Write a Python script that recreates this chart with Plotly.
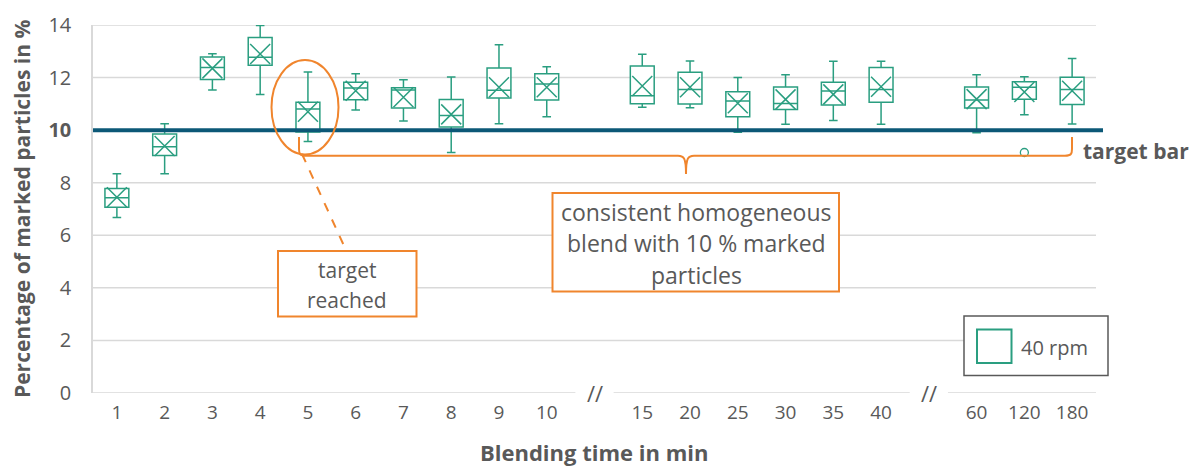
import plotly.graph_objects as go

# ---------------- data ----------------
slot_labels = ["1", "2", "3", "4", "5", "6", "7", "8", "9", "10", "//",
               "15", "20", "25", "30", "35", "40", "//", "60", "120", "180"]
times = ["1", "2", "3", "4", "5", "6", "7", "8", "9", "10",
         "15", "20", "25", "30", "35", "40", "60", "120", "180"]
upper = [8.34, 10.24, 12.91, 13.98, 12.21, 12.15, 11.92, 12.02, 13.25, 12.41,
         12.89, 12.63, 12.00, 12.11, 12.62, 12.62, 12.11, 12.03, 12.73]
q3 = [7.78, 9.85, 12.78, 13.52, 11.06, 11.82, 11.61, 11.17, 12.36, 12.15,
      12.44, 12.20, 11.46, 11.64, 11.82, 12.38, 11.64, 11.84, 12.01]
median = [7.43, 9.37, 12.38, 12.77, 10.80, 11.60, 11.53, 10.56, 11.52, 11.76,
          11.31, 11.55, 11.11, 11.01, 11.49, 11.55, 11.15, 11.63, 11.55]
q1 = [7.07, 9.04, 11.93, 12.47, 9.93, 11.16, 10.84, 10.12, 11.22, 11.15,
      11.00, 10.99, 10.51, 10.79, 10.96, 11.06, 10.84, 11.18, 10.98]
lower = [6.68, 8.34, 11.53, 11.36, 9.57, 10.77, 10.35, 9.15, 10.24, 10.51,
         10.87, 10.85, 9.92, 10.22, 10.37, 10.22, 9.90, 10.59, 10.23]
mean = [7.45, 9.40, 12.35, 12.90, 10.70, 11.50, 11.25, 10.60, 11.63, 11.63,
        11.68, 11.63, 11.02, 11.17, 11.36, 11.65, 11.18, 11.45, 11.50]
outlier_times = ["120"]
outlier_vals = [9.15]
y_ticks = [0, 2, 4, 6, 8, 10, 12, 14]
target = 10

# ---------------- style ----------------
TEAL = "#2A9E80"
NAVY = "#0C5877"
ORANGE = "#F0852D"
GRAY = "#595959"
GRID = "#D9D9D9"
FONT = "Open Sans"

W, H = 1197, 468
ML, MR, MT, MB = 93, 101, 25, 75
PW = W - ML - MR
PH = H - MT - MB
NS = len(slot_labels)


def dx(px):
    return -0.5 + (px - ML) / PW * NS


def dy(py):
    return 14 * (H - MB - py) / PH


def paper_x(px):
    return (px - ML) / PW


def paper_y(py):
    return (H - MB - py) / PH


pos = [slot_labels.index(t) for t in times]
gap_pos = [i for i, s in enumerate(slot_labels) if s == "//"]
out_pos = [slot_labels.index(t) for t in outlier_times]

fig = go.Figure()

fig.add_trace(go.Box(
    x=pos, q1=q1, median=median, q3=q3, lowerfence=lower, upperfence=upper,
    width=0.5, whiskerwidth=0.36, fillcolor="white",
    line=dict(color=TEAL, width=1.5), boxpoints=False, name="40 rpm",
    showlegend=False,
))
fig.add_trace(go.Scatter(
    x=pos, y=mean, mode="markers",
    marker=dict(symbol="x-thin", size=20, line=dict(color=TEAL, width=1.5)),
    showlegend=False, hoverinfo="skip",
))
fig.add_trace(go.Scatter(
    x=out_pos, y=outlier_vals, mode="markers",
    marker=dict(symbol="circle-open", size=8, color=TEAL, line=dict(color=TEAL, width=1.3)),
    showlegend=False,
))

shapes = []
# gridlines
for v in y_ticks[1:]:
    shapes.append(dict(type="line", xref="paper", yref="y", x0=0, x1=1, y0=v, y1=v,
                       line=dict(color=GRID, width=1.5), layer="below"))
# bottom axis line with gaps at the breaks
segs = []
start = -0.5
for g in gap_pos:
    segs.append((start, g - 0.4))
    start = g + 0.4
segs.append((start, NS - 0.5))
for a, b in segs:
    shapes.append(dict(type="line", xref="x", yref="y", x0=a, x1=b, y0=0, y1=0,
                       line=dict(color=GRID, width=1.5), layer="below"))
# target bar
shapes.append(dict(type="line", xref="paper", yref="y", x0=0, x1=paper_x(1103),
                   y0=target, y1=target, line=dict(color=NAVY, width=4)))
# ellipse around 5 min
shapes.append(dict(type="circle", xref="x", yref="y",
                   x0=dx(271.5), x1=dx(338.5), y0=dy(154.5), y1=dy(60),
                   line=dict(color=ORANGE, width=2)))
# dashed pointer
shapes.append(dict(type="line", xref="x", yref="y",
                   x0=dx(302), y0=dy(154), x1=dx(345), y1=dy(248),
                   line=dict(color=ORANGE, width=2, dash="dash")))


# curly bracket
def P(px, py):
    return f"{dx(px):.4f},{dy(py):.4f}"


yb = 155.7
path = (
    f"M {P(299, 137)} L {P(299, 149)} C {P(299, 154)} {P(300, yb)} {P(306, yb)} "
    f"L {P(678, yb)} C {P(684, yb)} {P(686, 158)} {P(686, 174)} "
    f"C {P(686, 158)} {P(688, yb)} {P(694, yb)} "
    f"L {P(1065, yb)} C {P(1071, yb)} {P(1072, 154)} {P(1072, 149)} L {P(1072, 137)}"
)
shapes.append(dict(type="path", xref="x", yref="y", path=path,
                   line=dict(color=ORANGE, width=2)))
# annotation boxes
shapes.append(dict(type="rect", xref="paper", yref="paper",
                   x0=paper_x(278), x1=paper_x(416.5), y0=paper_y(316.5), y1=paper_y(251),
                   line=dict(color=ORANGE, width=2), fillcolor="white"))
shapes.append(dict(type="rect", xref="paper", yref="paper",
                   x0=paper_x(552.5), x1=paper_x(839), y0=paper_y(291.5), y1=paper_y(193),
                   line=dict(color=ORANGE, width=2), fillcolor="white"))
# legend box
shapes.append(dict(type="rect", xref="paper", yref="paper",
                   x0=paper_x(964), x1=paper_x(1108), y0=paper_y(375.5), y1=paper_y(316),
                   line=dict(color=GRAY, width=1.5), fillcolor="white"))
shapes.append(dict(type="rect", xref="paper", yref="paper",
                   x0=paper_x(977), x1=paper_x(1011.5), y0=paper_y(363), y1=paper_y(329.5),
                   line=dict(color=TEAL, width=2), fillcolor="white"))

annotations = []


def txt(s, px, py, size=20, bold=False, xanchor="center", color=GRAY, angle=0):
    annotations.append(dict(
        text=f"<b>{s}</b>" if bold else s, xref="paper", yref="paper",
        x=paper_x(px), y=paper_y(py), xanchor=xanchor, yanchor="middle",
        showarrow=False, textangle=angle,
        font=dict(family=FONT, size=size, color=color)))


txt("target", 347, 270, size=21)
txt("reached", 347, 300, size=21)
txt("consistent homogeneous", 696, 211.5, size=23)
txt("blend with 10 % marked", 696, 243, size=23)
txt("particles", 696, 274.5, size=23)
txt("target bar", 1081, 151, size=21, bold=True, xanchor="left")
txt("40 rpm", 1019, 347, size=20, xanchor="left")
txt("Blending time in min", 594, 452, size=22, bold=True)
txt("Percentage of marked particles in %", 22, 209, size=21, bold=True, angle=-90)
for g in gap_pos:
    annotations.append(dict(text="//", xref="x", yref="paper", x=g, y=0,
                            xanchor="center", yanchor="middle", showarrow=False,
                            font=dict(family=FONT, size=22, color=GRAY)))

tick_text = ["" if s == "//" else s for s in slot_labels]
y_text = [f"<b>{v}</b>" if v == target else str(v) for v in y_ticks]

fig.update_layout(
    width=W, height=H,
    margin=dict(l=ML, r=MR, t=MT, b=MB),
    paper_bgcolor="white", plot_bgcolor="white",
    font=dict(family=FONT, color=GRAY),
    shapes=shapes, annotations=annotations, showlegend=False,
    xaxis=dict(range=[-0.5, NS - 0.5], tickmode="array",
               tickvals=list(range(NS)), ticktext=tick_text,
               showgrid=False, zeroline=False, showline=False, ticks="",
               tickfont=dict(family=FONT, size=19, color=GRAY),
               ticklabelstandoff=6),
    yaxis=dict(range=[0, 14], tickmode="array", tickvals=y_ticks, ticktext=y_text,
               showgrid=False, zeroline=False, showline=True, linecolor=GRID,
               linewidth=1.5, ticks="",
               tickfont=dict(family=FONT, size=20, color=GRAY),
               ticklabelstandoff=16),
)

fig.write_html("out.html")
